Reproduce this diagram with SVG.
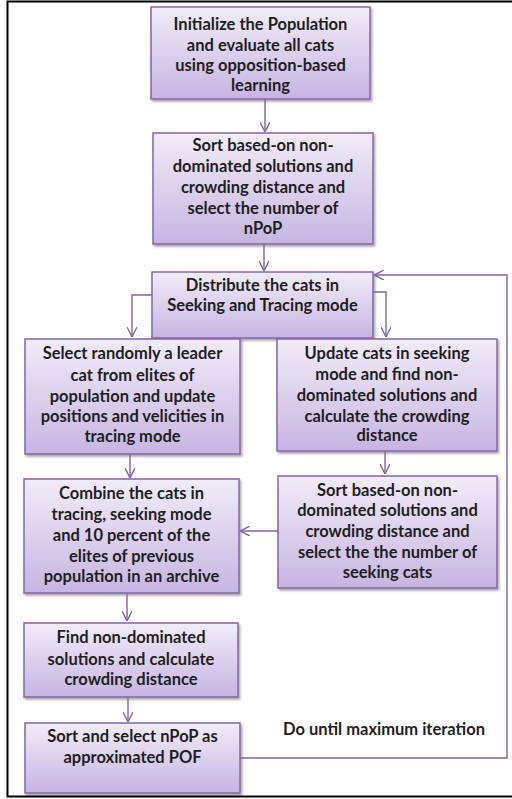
<svg xmlns="http://www.w3.org/2000/svg" width="512" height="799" viewBox="0 0 512 799">
<defs>
<linearGradient id="g" x1="0" y1="0" x2="0" y2="1">
<stop offset="0" stop-color="#f1ecf8"/>
<stop offset="1" stop-color="#c7b5e2"/>
</linearGradient>
<filter id="sh" x="-10%" y="-10%" width="130%" height="130%">
<feDropShadow dx="1.5" dy="2" stdDeviation="1.2" flood-color="#000" flood-opacity="0.35"/>
</filter>
<marker id="ah" viewBox="0 0 10 10" refX="10" refY="5" markerWidth="10" markerHeight="10" markerUnits="userSpaceOnUse" orient="auto">
<path d="M0,0 L10,5 L0,10" fill="none" stroke="#8064a2" stroke-width="1.4"/>
</marker>
<style>
.box{fill:url(#g);stroke:#8466a8;stroke-width:1.5;filter:url(#sh)}
.t{font-family:Lato,"Liberation Sans",sans-serif;font-weight:bold;font-size:16.5px;fill:#1e1e1e;text-anchor:middle}
.c{fill:none;stroke:#8064a2;stroke-width:1.4;marker-end:url(#ah)}
.frame{fill:none;stroke:#000;stroke-width:2}
</style>
</defs>
<rect width="512" height="799" fill="#fff"/>
<path class="frame" d="M512,1.5 H7.5 V796.5 H512"/>

<g id="n1"><rect class="box" x="151" y="7" width="219" height="92"/>
<text class="t" x="260.5" y="30">Initialize the Population</text>
<text class="t" x="260.5" y="51">and evaluate all cats</text>
<text class="t" x="260.5" y="71">using opposition-based</text>
<text class="t" x="260.5" y="91">learning</text></g>

<g id="n2"><rect class="box" x="153" y="133" width="220" height="111"/>
<text class="t" x="263" y="151">Sort based-on non-</text>
<text class="t" x="263" y="172">dominated solutions and</text>
<text class="t" x="263" y="193">crowding distance and</text>
<text class="t" x="263" y="214">select the number of</text>
<text class="t" x="263" y="234">nPoP</text></g>

<g id="n3"><rect class="box" x="152" y="272" width="221" height="66"/>
<text class="t" x="262.5" y="291">Distribute the cats in</text>
<text class="t" x="262.5" y="311">Seeking and Tracing mode</text></g>

<g id="n4"><rect class="box" x="25" y="339" width="215" height="115"/>
<text class="t" x="132.5" y="359">Select randomly a leader</text>
<text class="t" x="132.5" y="381">cat from elites of</text>
<text class="t" x="132.5" y="402">population and update</text>
<text class="t" x="132.5" y="422">positions and velicities in</text>
<text class="t" x="132.5" y="442">tracing mode</text></g>

<g id="n5"><rect class="box" x="277" y="339" width="220" height="112"/>
<text class="t" x="387" y="359">Update cats in seeking</text>
<text class="t" x="387" y="380">mode and find non-</text>
<text class="t" x="387" y="401">dominated solutions and</text>
<text class="t" x="387" y="422">calculate the crowding</text>
<text class="t" x="387" y="441">distance</text></g>

<g id="n6"><rect class="box" x="278" y="476" width="219" height="112"/>
<text class="t" x="387.5" y="496">Sort based-on non-</text>
<text class="t" x="387.5" y="516">dominated solutions and</text>
<text class="t" x="387.5" y="537">crowding distance and</text>
<text class="t" x="387.5" y="558">select the the number of</text>
<text class="t" x="387.5" y="578">seeking cats</text></g>

<g id="n7"><rect class="box" x="24" y="479" width="215" height="114"/>
<text class="t" x="131.5" y="499">Combine the cats in</text>
<text class="t" x="131.5" y="520">tracing, seeking mode</text>
<text class="t" x="131.5" y="541">and 10 percent of the</text>
<text class="t" x="131.5" y="562">elites of previous</text>
<text class="t" x="131.5" y="582">population in an archive</text></g>

<g id="n8"><rect class="box" x="24" y="623" width="214" height="74"/>
<text class="t" x="131" y="643">Find non-dominated</text>
<text class="t" x="131" y="665">solutions and calculate</text>
<text class="t" x="131" y="685">crowding distance</text></g>

<g id="n9"><rect class="box" x="25" y="723" width="215" height="70"/>
<text class="t" x="132.5" y="742">Sort and select nPoP as</text>
<text class="t" x="132.5" y="763">approximated POF</text></g>

<text class="t" x="384" y="735">Do until maximum iteration</text>

<g id="connectors">
<path class="c" d="M265,99 V132"/>
<path class="c" d="M264,244 V271"/>
<path class="c" d="M152,295 H132 V337"/>
<path class="c" d="M373,292 H386 V337"/>
<path class="c" d="M385,451 V474"/>
<path class="c" d="M278,531 H240"/>
<path class="c" d="M130,454 V478"/>
<path class="c" d="M127,593 V621"/>
<path class="c" d="M128,697 V722"/>
<path class="c" d="M240,758 H507 V275 H374"/>
</g>
</svg>
